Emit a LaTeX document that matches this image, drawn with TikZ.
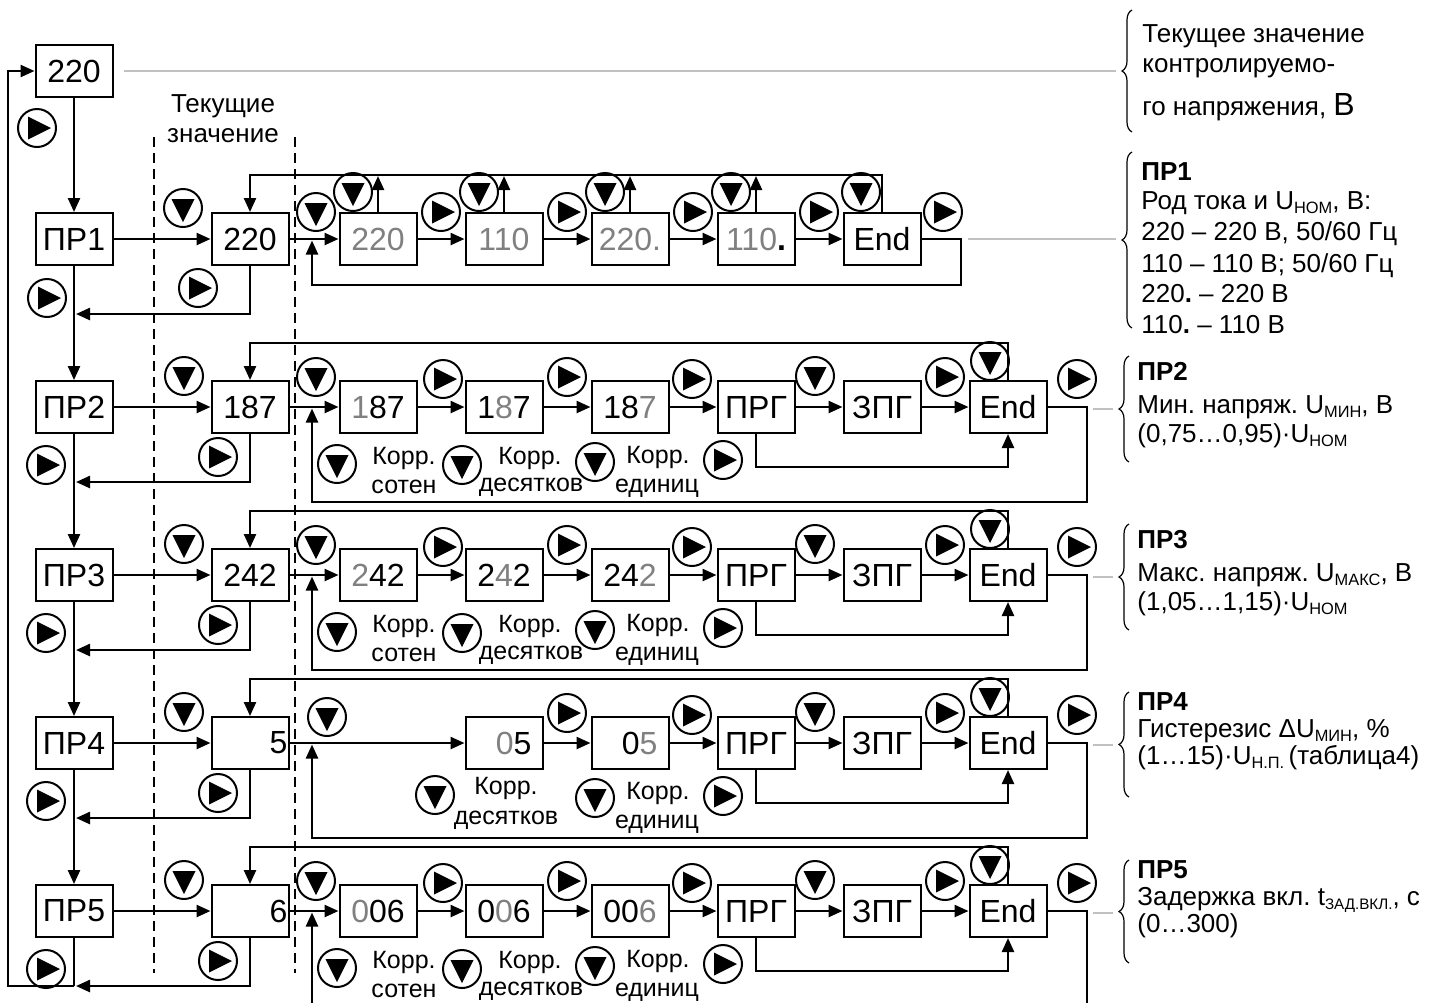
\documentclass[tikz,border=0pt]{standalone}
\usepackage{fontspec}
\setmainfont{Liberation Sans}
\usetikzlibrary{arrows.meta,decorations.pathreplacing}
\definecolor{txtgray}{RGB}{128,128,128}
\definecolor{lngray}{RGB}{192,192,192}
\newcommand{\gr}[1]{\textcolor{txtgray}{#1}}
\newcommand{\lowtext}[1]{\raisebox{-0.35ex}{\fontsize{8.2}{8.2}\selectfont #1}}
\frenchspacing
\begin{document}
\begin{tikzpicture}[x=0.5pt,y=-0.5pt,
  ln/.style={line width=1.2pt},
  arr/.style={line width=1.2pt,-{Triangle[length=7pt,width=6pt]}},
  box/.style={draw,line width=1pt,minimum width=38.5pt,minimum height=26pt,inner sep=0pt,font=\fontsize{16}{18}\selectfont},
  boxr/.style={box,align=right,text width=#1},
  btn/.style={circle,draw,line width=1pt,minimum size=19pt,inner sep=0pt},
  bR/.style={btn,path picture={\fill ([xshift=-4.5pt,yshift=5.75pt]path picture bounding box.center) -- ++(11.5pt,-5.75pt) -- ++(-11.5pt,-5.75pt) -- cycle;}},
  bD/.style={btn,path picture={\fill ([xshift=-5.75pt,yshift=4.5pt]path picture bounding box.center) -- ++(11.5pt,0pt) -- ++(-5.75pt,-11.5pt) -- cycle;}},
  lbl/.style={font=\fontsize{12.5}{14}\selectfont,inner sep=0pt},
  tlbl/.style={font=\fontsize{13}{15}\selectfont,inner sep=0pt},
  rt/.style={font=\fontsize{13}{15}\selectfont,inner sep=0pt,anchor=base west},
  gl/.style={draw=lngray,line width=1.2pt},
  dsh/.style={line width=0.8pt,dash pattern=on 5pt off 3pt},
  brc/.style={line width=0.6pt,decorate,decoration={brace,amplitude=5pt}},
]
\useasboundingbox (0,0) rectangle (1429,1003);

% dashed column
\draw[dsh] (154,137) -- (154,973);
\draw[dsh] (295,137) -- (295,973);
\node[tlbl,anchor=base] (tk1) at (223,112) {Текущие};
\node[tlbl,anchor=base] (tk2) at (223,142) {значение};

% main column boxes
\node[box] (top) at (74,71) {220};
\foreach \n/\R in {1/239,2/407,3/575,4/743,5/911}
  \node[box] (pr\n) at (74,\R) {ПР\n};
\node[box] (cur1) at (250,239) {220};
\node[box] (cur2) at (250,407) {187};
\node[box] (cur3) at (250,575) {242};
\node[boxr=37.5pt] (cur4) at (250,743) {5};
\node[boxr=37.5pt] (cur5) at (250,911) {6};

% row 1 chain
\node[box] (c1r1) at (378,239) {\gr{220}};
\node[box] (c2r1) at (504,239) {\gr{110}};
\node[box] (c3r1) at (630,239) {\gr{220.}};
\node[box] (c4r1) at (756,239) {\gr{110}\textbf{.}};
\node[box] (c5r1) at (882,239) {End};

% row 2
\node[box] (c1r2) at (378,407) {\gr{1}87};
\node[box] (c2r2) at (504,407) {1\gr{8}7};
\node[box] (c3r2) at (630,407) {18\gr{7}};
% row 3
\node[box] (c1r3) at (378,575) {\gr{2}42};
\node[box] (c2r3) at (504,575) {2\gr{4}2};
\node[box] (c3r3) at (630,575) {24\gr{2}};
% row 4
\node[boxr=27.5pt] (c2r4) at (504,743) {\gr{0}5};
\node[boxr=27.5pt] (c3r4) at (630,743) {0\gr{5}};
% row 5
\node[box] (c1r5) at (378,911) {\gr{0}06};
\node[box] (c2r5) at (504,911) {0\gr{0}6};
\node[box] (c3r5) at (630,911) {00\gr{6}};
\foreach \n/\R in {2/407,3/575,4/743,5/911}{
  \node[box] (c4r\n) at (756,\R) {ПРГ};
  \node[box] (c5r\n) at (882,\R) {ЗПГ};
  \node[box] (c6r\n) at (1008,\R) {End};
}

% main column connectors
\draw[arr] (top.south) -- (pr1.north);
\foreach \a/\b in {1/2,2/3,3/4,4/5} \draw[arr] (pr\a.south) -- (pr\b.north);
\coordinate (bl) at (74,986);
\draw[ln] (pr5.south) -- (bl);
\draw[arr] (bl) -- (8,986) -- (8,71) -- (top.west);
\foreach \n/\R in {1/239,2/407,3/575,4/743,5/911}{
  \draw[arr] (pr\n.east) -- (cur\n.west);
  \draw[arr] (cur\n.south) |- (76,\R+75);
}

% row 1 connectors
\draw[arr] (cur1.east) -- (c1r1.west);
\foreach \a/\b in {1/2,2/3,3/4,4/5} \draw[arr] (c\a r1.east) -- (c\b r1.west);
\foreach \a/\x in {1/378,2/504,3/630,4/756} \draw[arr] (c\a r1.north) -- (\x,176);
\draw[arr] (c5r1.north) |- (250,175) -- (cur1.north);
\draw[arr] (c5r1.east) -- (961,239) -- (961,285) -- (312,285) -- (312,240.5);

% rows 2-5 connectors
\foreach \n in {2,3,5} {
  \draw[arr] (cur\n.east) -- (c1r\n.west);
  \draw[arr] (c1r\n.east) -- (c2r\n.west);
}
\draw[arr] (cur4.east) -- (c2r4.west);
\foreach \n/\R in {2/407,3/575,4/743,5/911}{
  \draw[arr] (c2r\n.east) -- (c3r\n.west);
  \draw[arr] (c3r\n.east) -- (c4r\n.west);
  \draw[arr] (c4r\n.east) -- (c5r\n.west);
  \draw[arr] (c5r\n.east) -- (c6r\n.west);
  \draw[arr] (c6r\n.north) |- (250,\R-64) -- (cur\n.north);
  \draw[arr] (c4r\n.south) -- (756,\R+60) -| (c6r\n.south);
  \draw[gl] (1093,\R+2) -- (1113,\R+2);
}
\foreach \n/\R in {2/407,3/575,4/743}
  \draw[arr] (c6r\n.east) -- (1087,\R) -- (1087,\R+95) -- (312,\R+95) -- (312,\R+1.5);
\draw[ln] (c6r5.east) -- (1087,911) -- (1087,1003);
\draw[arr] (312,1003) -- (312,912.5);

% gray leaders
\draw[gl] ([xshift=5pt]top.east) -- (1116,71);
\draw[gl] ([xshift=23pt]c5r1.east) -- (1116,239);

% buttons: top and row 1
\node[bR] (t0) at (37,128) {};
\node[bR] (pd1) at (47,298) {};
\node[bD] (cv1) at (183,208) {};
\node[bR] (cd1) at (198,288) {};
\node[bD] (s1) at (316,212) {};
\foreach \a/\x in {1/353,2/479,3/605,4/731,5/861} \node[bD] (v\a r1) at (\x,192) {};
\foreach \a/\x in {1/441,2/567,3/693,4/819,5/943} \node[bR] (h\a r1) at (\x,212) {};

% buttons rows 2-5
\foreach \n/\R in {2/407,3/575,4/743,5/911}{
  \node[bR] (pd\n) at (46,\R+58) {};
  \node[bD] (cv\n) at (184,\R-31) {};
  \node[bR] (cd\n) at (218,\R+50) {};
  \node[bR] (h2r\n) at (567,\R-30) {};
  \node[bR] (h3r\n) at (692,\R-28) {};
  \node[bD] (h4r\n) at (815,\R-31) {};
  \node[bR] (h5r\n) at (945,\R-30) {};
  \node[bD] (v6r\n) at (990,\R-46) {};
  \node[bR] (h6r\n) at (1077,\R-28) {};
  \node[bD] (k3r\n) at (595,\R+55) {};
  \node[bR] (k4r\n) at (723,\R+53) {};
  \node[lbl] (kt3r\n) at (658,\R+50) {Корр.};
  \node[lbl] (ku3r\n) at (657,\R+81) {единиц};
}
\foreach \n/\R in {2/407,3/575,5/911}{
  \node[bD] (s\n) at (316,\R-30) {};
  \node[bR] (h1r\n) at (443,\R-28) {};
  \node[bD] (k1r\n) at (337,\R+57) {};
  \node[lbl] (kt1r\n) at (404,\R+51) {Корр.};
  \node[lbl] (ku1r\n) at (404,\R+80) {сотен};
  \node[bD] (k2r\n) at (462,\R+58) {};
  \node[lbl] (kt2r\n) at (530,\R+51) {Корр.};
  \node[lbl] (ku2r\n) at (531,\R+80) {десятков};
}
\node[bD] (s4) at (327,717) {};
\node[bD] (k2r4) at (435,795) {};
\node[lbl] (kt2r4) at (506,788) {Корр.};
\node[lbl] (ku2r4) at (506,820) {десятков};

% braces
\draw[brc] (1132,132) -- (1132,10);
\draw[brc] (1132,328) -- (1132,152);
\draw[brc] (1129,462) -- (1129,356);
\draw[brc] (1129,630) -- (1129,524);
\draw[brc] (1129,797) -- (1129,692);
\draw[brc] (1129,963) -- (1129,860);

% right texts
\node[rt] (n0a) at (1142,42) {Текущее значение};
\node[rt] (n0b) at (1142,72) {контролируемо-};
\node[rt] (n0c) at (1142,115) {го напряжения, {\fontsize{16}{16}\selectfont В}};

\node[rt] (n1a) at (1141,180) {\textbf{ПР1}};
\node[rt] (n1b) at (1141,209) {Род тока и U\lowtext{НОМ}, В:};
\node[rt] (n1c) at (1141,240) {220 – 220 В, 50/60 Гц};
\node[rt] (n1d) at (1141,272) {110 – 110 В; 50/60 Гц};
\node[rt] (n1e) at (1141,302) {220\textbf{.} – 220 В};
\node[rt] (n1f) at (1141,333) {110\textbf{.} – 110 В};

\node[rt] (n2a) at (1137,380) {\textbf{ПР2}};
\node[rt] (n2b) at (1137,413) {Мин. напряж. U\lowtext{МИН}, В};
\node[rt] (n2c) at (1137,442) {(0,75…0,95)·U\lowtext{НОМ}};

\node[rt] (n3a) at (1137,548) {\textbf{ПР3}};
\node[rt] (n3b) at (1137,581) {Макс. напряж. U\lowtext{МАКС}, В};
\node[rt] (n3c) at (1137,610) {(1,05…1,15)·U\lowtext{НОМ}};

\node[rt] (n4a) at (1137,710) {\textbf{ПР4}};
\node[rt] (n4b) at (1137,737) {Гистерезис ΔU\lowtext{МИН}, \%};
\node[rt] (n4c) at (1137,764) {(1…15)·U\lowtext{Н.П.}\,(таблица4)};

\node[rt] (n5a) at (1137,878) {\textbf{ПР5}};
\node[rt] (n5b) at (1137,905) {Задержка вкл. t\lowtext{\fontsize{7.6}{7.6}\selectfont ЗАД.ВКЛ.}, с};
\node[rt] (n5c) at (1137,932) {(0…300)};
\end{tikzpicture}
\end{document}
